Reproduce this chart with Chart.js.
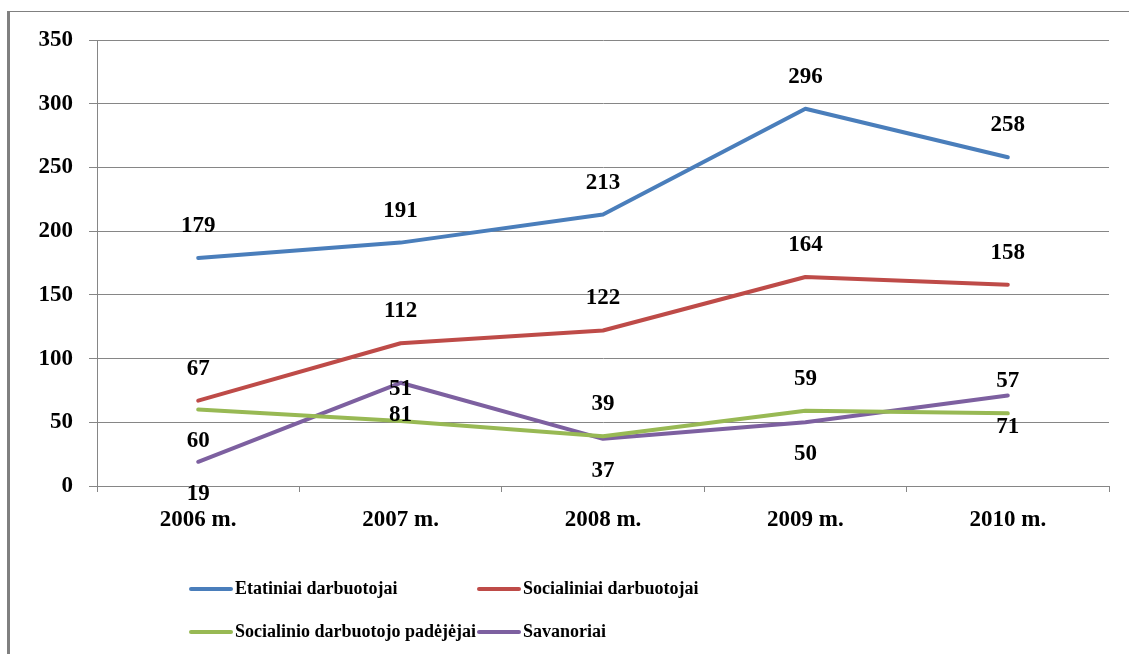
<!DOCTYPE html>
<html>
<head>
<meta charset="utf-8">
<script src="https://cdn.jsdelivr.net/npm/chart.js@4/dist/chart.umd.min.js"></script>
<style>
  html, body { margin: 0; padding: 0; background: #fff; }
  #wrap { width: 1129px; height: 654px; position: relative; }
</style>
</head>
<body>
<div id="wrap"><canvas id="chart"></canvas></div>
<script>
// data
const years = ['2006 m.', '2007 m.', '2008 m.', '2009 m.', '2010 m.'];
const etatiniai = [179, 191, 213, 296, 258];
const socialiniai = [67, 112, 122, 164, 158];
const padejejai = [60, 51, 39, 59, 57];
const savanoriai = [19, 81, 37, 50, 71];

// where each value label sits relative to its point
const labelSide = {
    etatiniai: ['above', 'above', 'above', 'above', 'above'],
    socialiniai: ['above', 'above', 'above', 'above', 'above'],
    padejejai: ['below', 'above', 'above', 'above', 'above'],
    savanoriai: ['below', 'below', 'below', 'below', 'below']
};

const serif = "'Liberation Serif', 'Times New Roman', serif";
const gray = '#868686';

// outer frame (top hairline and thick left edge)
const framePlugin = {
    id: 'frame',
    beforeDraw(chart) {
        const c = chart.ctx;
        c.save();
        c.fillStyle = '#808080';
        c.fillRect(7, 11, chart.width - 7, 1);
        c.fillRect(7, 11, 3, chart.height - 11);
        c.restore();
    }
};

// value labels over / under each point
const valueLabels = {
    id: 'valueLabels',
    afterDatasetsDraw(chart) {
        const c = chart.ctx;
        c.save();
        c.font = 'bold 23px ' + serif;
        c.fillStyle = '#000';
        c.textAlign = 'center';
        c.textBaseline = 'middle';
        chart.data.datasets.forEach((ds, i) => {
            const meta = chart.getDatasetMeta(i);
            meta.data.forEach((pt, j) => {
                const side = labelSide[ds.key][j];
                const dy = side === 'above' ? -32 : 32;
                c.fillText(ds.data[j], pt.x, pt.y + dy);
            });
        });
        c.restore();
    }
};

// two-column legend under the axis
const legendPlugin = {
    id: 'gridLegend',
    afterDraw(chart) {
        const c = chart.ctx;
        const cols = [191, 479];
        const rows = [589, 632];
        c.save();
        c.font = 'bold 18px ' + serif;
        c.fillStyle = '#000';
        c.textAlign = 'left';
        c.textBaseline = 'middle';
        chart.data.datasets.forEach((ds, i) => {
            const x = cols[i % 2];
            const y = rows[Math.floor(i / 2)];
            c.strokeStyle = ds.borderColor;
            c.lineWidth = 4;
            c.lineCap = 'round';
            c.beginPath();
            c.moveTo(x, y);
            c.lineTo(x + 40, y);
            c.stroke();
            c.fillText(ds.label, x + 44, y);
        });
        c.restore();
    }
};

const makeSet = (label, key, data, color) => ({
    label: label,
    key: key,
    data: data,
    borderColor: color,
    backgroundColor: color,
    borderWidth: 4,
    borderCapStyle: 'round',
    borderJoinStyle: 'round',
    pointRadius: 0,
    tension: 0,
    fill: false
});

new Chart(document.getElementById('chart'), {
    type: 'line',
    data: {
        labels: years,
        datasets: [
            makeSet('Etatiniai darbuotojai', 'etatiniai', etatiniai, '#4A7EBB'),
            makeSet('Socialiniai darbuotojai', 'socialiniai', socialiniai, '#BE4B48'),
            makeSet('Socialinio darbuotojo padėjėjai', 'padejejai', padejejai, '#98B954'),
            makeSet('Savanoriai', 'savanoriai', savanoriai, '#7D60A0')
        ]
    },
    options: {
        responsive: true,
        maintainAspectRatio: false,
        animation: false,
        layout: { padding: { top: 40, right: 20, left: 0, bottom: 0 } },
        plugins: {
            legend: { display: false },
            tooltip: { enabled: false }
        },
        scales: {
            x: {
                offset: true,
                grid: {
                    offset: true,
                    drawOnChartArea: false,
                    color: gray,
                    tickLength: 6
                },
                border: { color: gray },
                ticks: {
                    color: '#000',
                    font: { family: serif, size: 23, weight: 'bold' },
                    padding: 14,
                    maxRotation: 0
                },
                afterFit(scale) { scale.height = 168; }
            },
            y: {
                min: 0,
                max: 350,
                grid: { color: gray, tickLength: 8 },
                border: { color: gray },
                ticks: {
                    stepSize: 50,
                    color: '#000',
                    font: { family: serif, size: 23, weight: 'bold' },
                    padding: 16
                },
                afterFit(scale) { scale.width = 97; }
            }
        }
    },
    plugins: [framePlugin, valueLabels, legendPlugin]
});
</script>
</body>
</html>
